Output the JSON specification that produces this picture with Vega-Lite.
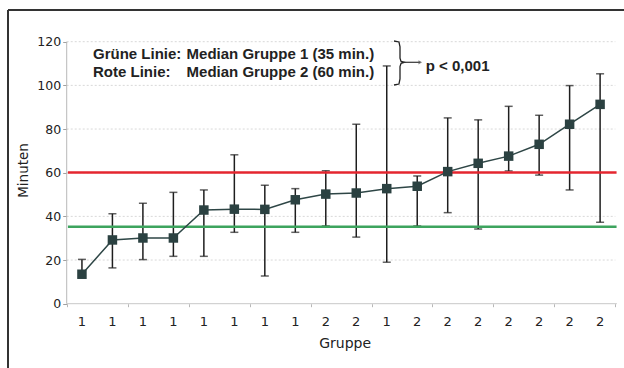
{
  "$schema": "https://vega.github.io/schema/vega-lite/v6.json",
  "autosize": {"type": "none"},
  "padding": {"left": 8, "top": 10, "right": 0, "bottom": 0},
  "width": 616,
  "height": 358,
  "background": "#ffffff",
  "config": {
    "view": {"stroke": "#333333", "strokeWidth": 2, "strokeDash": [617, 972, 359, 0]},
    "axis": {"labelFont": "DejaVu Sans", "titleFont": "DejaVu Sans", "labelColor": "#222222", "titleColor": "#222222", "titleFontWeight": "normal"}
  },
  "datasets": {
    "obs": [
      {"Fall": 1, "Gruppe": "1", "Minuten": 13.5, "min": 12.0, "max": 20.3},
      {"Fall": 2, "Gruppe": "1", "Minuten": 29.2, "min": 16.4, "max": 41.2},
      {"Fall": 3, "Gruppe": "1", "Minuten": 30.1, "min": 20.2, "max": 46.0},
      {"Fall": 4, "Gruppe": "1", "Minuten": 30.1, "min": 21.7, "max": 51.0},
      {"Fall": 5, "Gruppe": "1", "Minuten": 42.9, "min": 21.7, "max": 52.1},
      {"Fall": 6, "Gruppe": "1", "Minuten": 43.3, "min": 32.7, "max": 68.2},
      {"Fall": 7, "Gruppe": "1", "Minuten": 43.2, "min": 12.7, "max": 54.2},
      {"Fall": 8, "Gruppe": "1", "Minuten": 47.6, "min": 32.7, "max": 52.7},
      {"Fall": 9, "Gruppe": "2", "Minuten": 50.2, "min": 35.6, "max": 60.9},
      {"Fall": 10, "Gruppe": "2", "Minuten": 50.7, "min": 30.5, "max": 82.2},
      {"Fall": 11, "Gruppe": "1", "Minuten": 52.7, "min": 19.0, "max": 108.9},
      {"Fall": 12, "Gruppe": "2", "Minuten": 53.8, "min": 35.6, "max": 58.5},
      {"Fall": 13, "Gruppe": "2", "Minuten": 60.5, "min": 41.7, "max": 85.1},
      {"Fall": 14, "Gruppe": "2", "Minuten": 64.3, "min": 34.2, "max": 84.2},
      {"Fall": 15, "Gruppe": "2", "Minuten": 67.6, "min": 60.8, "max": 90.4},
      {"Fall": 16, "Gruppe": "2", "Minuten": 73.0, "min": 58.9, "max": 86.3},
      {"Fall": 17, "Gruppe": "2", "Minuten": 82.2, "min": 52.1, "max": 99.9},
      {"Fall": 18, "Gruppe": "2", "Minuten": 91.3, "min": 37.3, "max": 105.3}
    ],
    "medians": [
      {"Linie": "Grün", "Median": 35.2},
      {"Linie": "Rot", "Median": 60.1}
    ],
    "grid": [{"v": 20}, {"v": 40}, {"v": 60}, {"v": 80}, {"v": 100}, {"v": 120}],
    "notes": [
      {"x": 1.363, "y": 111.9, "text": "Grüne Linie:"},
      {"x": 4.434, "y": 111.9, "text": "Median Gruppe 1 (35 min.)"},
      {"x": 1.363, "y": 104.0, "text": "Rote Linie:"},
      {"x": 4.434, "y": 104.0, "text": "Median Gruppe 2 (60 min.)"},
      {"x": 12.278, "y": 106.7, "text": "p < 0,001"}
    ],
    "brace": [
      {"k": 1, "x": 11.238, "y": 120.32},
      {"k": 2, "x": 11.40, "y": 119.87},
      {"k": 3, "x": 11.435, "y": 117.6},
      {"k": 4, "x": 11.435, "y": 112.5},
      {"k": 5, "x": 11.47, "y": 111.0},
      {"k": 6, "x": 11.58, "y": 110.57},
      {"k": 7, "x": 11.47, "y": 110.1},
      {"k": 8, "x": 11.435, "y": 108.6},
      {"k": 9, "x": 11.435, "y": 103.0},
      {"k": 10, "x": 11.40, "y": 100.6},
      {"k": 11, "x": 11.238, "y": 100.17}
    ]
  },
  "layer": [
    {
      "data": {"name": "grid"},
      "mark": {"type": "rule", "color": "#d8d8d8", "strokeWidth": 1, "strokeDash": [2, 2]},
      "encoding": {
        "x": {"datum": 0.5, "type": "quantitative", "scale": {"domain": [-1.426, 18.784], "nice": false, "zero": false},
          "axis": {"values": [0.5, 1.5, 2.5, 3.5, 4.5, 5.5, 6.5, 7.5, 8.5, 9.5, 10.5, 11.5, 12.5, 13.5, 14.5, 15.5, 16.5, 17.5, 18.5],
            "labels": false, "domain": false, "grid": false, "ticks": true, "tickSize": 3, "tickColor": "#b8b8b8",
            "offset": -64.3, "title": "Gruppe", "titleFontSize": 14, "titlePadding": 29, "titleX": 336.6}},
        "x2": {"datum": 18.5},
        "y": {"field": "v", "type": "quantitative", "scale": {"domain": [-29.45, 134.52], "nice": false, "zero": false},
          "axis": {"values": [0, 20, 40, 60, 80, 100, 120], "domain": false, "grid": false, "ticks": true, "tickSize": 4,
            "tickColor": "#a0a0a0", "labelPadding": 2, "labelFontSize": 12.5, "offset": -58.7, "title": "Minuten",
            "titleFontSize": 13.5, "titlePadding": 6, "titleY": 160}}
      }
    },
    {
      "data": {"values": [{}]},
      "mark": {"type": "rule", "color": "#b8b8b8", "strokeWidth": 1},
      "encoding": {"x": {"datum": 0.5}, "y": {"datum": 0}, "y2": {"datum": 120}}
    },
    {
      "data": {"values": [{}]},
      "mark": {"type": "rule", "color": "#c8c8c8", "strokeWidth": 1},
      "encoding": {"x": {"datum": 0.5}, "x2": {"datum": 18.55}, "y": {"datum": 0}}
    },
    {
      "data": {"name": "obs"},
      "mark": {"type": "rule", "color": "#1e1e1e", "strokeWidth": 1.5},
      "encoding": {"x": {"field": "Fall", "type": "quantitative"}, "y": {"field": "min", "type": "quantitative"}, "y2": {"field": "max"}}
    },
    {
      "data": {"name": "obs"},
      "mark": {"type": "tick", "orient": "horizontal", "color": "#1e1e1e", "size": 8, "thickness": 1.5},
      "encoding": {"x": {"field": "Fall", "type": "quantitative"}, "y": {"field": "max", "type": "quantitative"}}
    },
    {
      "data": {"name": "obs"},
      "mark": {"type": "tick", "orient": "horizontal", "color": "#1e1e1e", "size": 8, "thickness": 1.5},
      "encoding": {"x": {"field": "Fall", "type": "quantitative"}, "y": {"field": "min", "type": "quantitative"}}
    },
    {
      "data": {"name": "medians"},
      "mark": {"type": "rule", "strokeWidth": 2.5},
      "encoding": {
        "x": {"datum": 0.54}, "x2": {"datum": 18.54},
        "y": {"field": "Median", "type": "quantitative"},
        "color": {"field": "Linie", "type": "nominal", "scale": {"domain": ["Grün", "Rot"], "range": ["#3da45e", "#e4262f"]}, "legend": null}
      }
    },
    {
      "data": {"name": "obs"},
      "mark": {"type": "line", "color": "#2e4646", "strokeWidth": 1.5},
      "encoding": {"x": {"field": "Fall", "type": "quantitative"}, "y": {"field": "Minuten", "type": "quantitative"}}
    },
    {
      "data": {"name": "obs"},
      "mark": {"type": "point", "shape": "square", "filled": true, "size": 90, "color": "#2b4141", "opacity": 1},
      "encoding": {"x": {"field": "Fall", "type": "quantitative"}, "y": {"field": "Minuten", "type": "quantitative"}}
    },
    {
      "data": {"name": "obs"},
      "mark": {"type": "text", "font": "DejaVu Sans", "fontSize": 13, "color": "#222222", "baseline": "middle", "align": "center"},
      "encoding": {"x": {"field": "Fall", "type": "quantitative"}, "y": {"datum": -8.24}, "text": {"field": "Gruppe"}}
    },
    {
      "data": {"name": "notes"},
      "mark": {"type": "text", "font": "Liberation Sans", "fontWeight": "bold", "fontSize": 15, "color": "#222222", "align": "left", "baseline": "alphabetic"},
      "encoding": {"x": {"field": "x", "type": "quantitative"}, "y": {"field": "y", "type": "quantitative"}, "text": {"field": "text"}}
    },
    {
      "data": {"name": "brace"},
      "mark": {"type": "line", "color": "#222222", "strokeWidth": 1.3},
      "encoding": {"x": {"field": "x", "type": "quantitative"}, "y": {"field": "y", "type": "quantitative"}, "order": {"field": "k"}}
    },
    {
      "data": {"values": [{}]},
      "mark": {"type": "rule", "color": "#333333", "strokeWidth": 1.2},
      "encoding": {"x": {"datum": 11.55}, "x2": {"datum": 12.1}, "y": {"datum": 110.57}}
    },
    {
      "data": {"values": [{}]},
      "mark": {"type": "point", "shape": "triangle-right", "filled": true, "size": 18, "color": "#555555"},
      "encoding": {"x": {"datum": 12.1}, "y": {"datum": 110.57}}
    }
  ]
}
